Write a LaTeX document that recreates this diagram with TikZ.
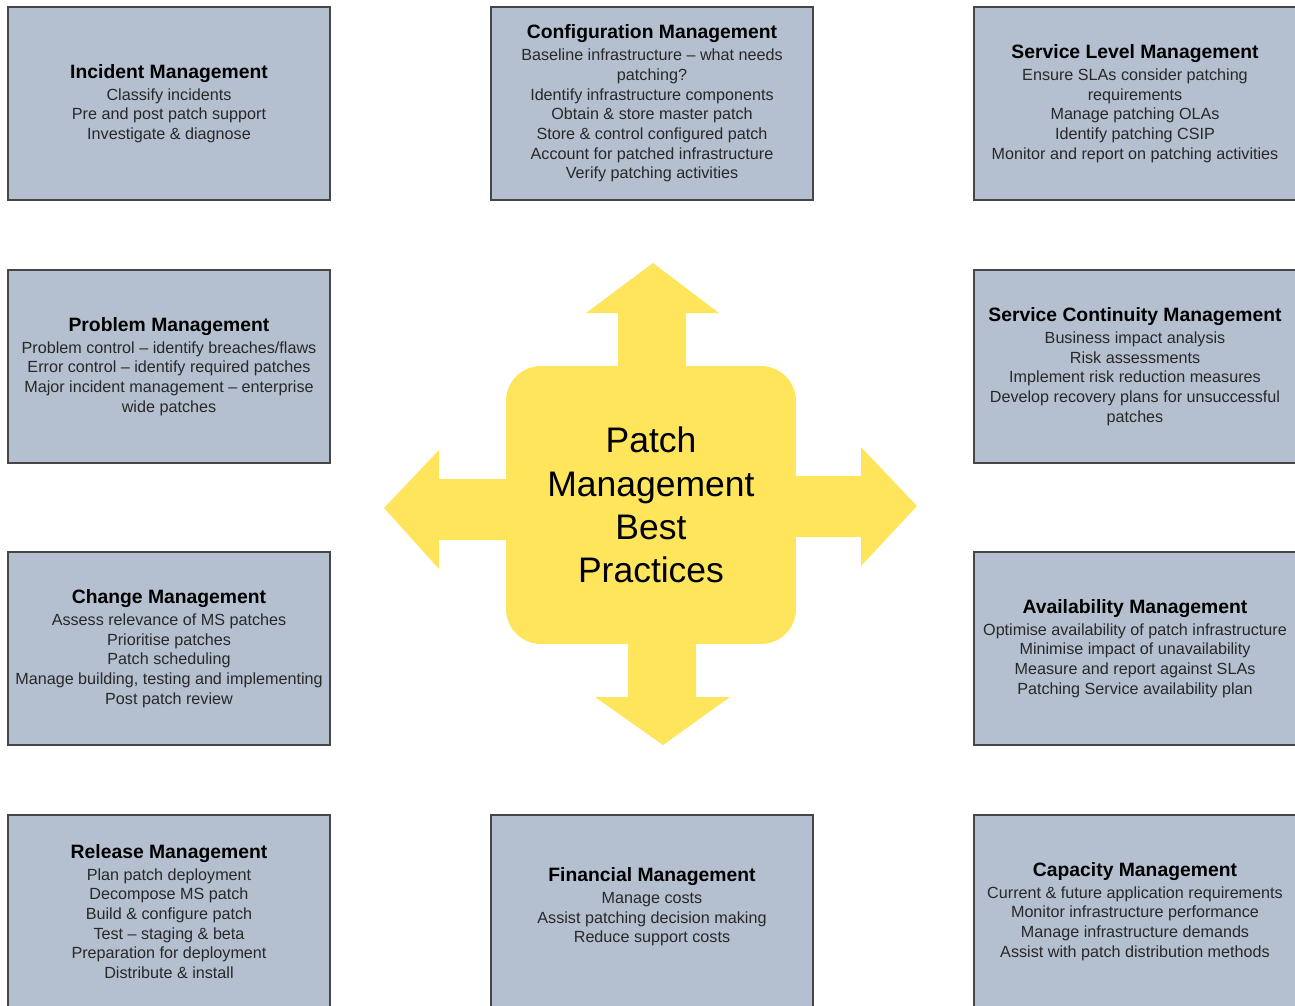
\documentclass[tikz,border=0pt]{standalone}
\usepackage{fontspec}
\setmainfont{Liberation Sans}
\definecolor{boxfill}{RGB}{180,192,208}
\definecolor{boxline}{RGB}{70,70,70}
\definecolor{patchyellow}{RGB}{254,229,92}
\definecolor{bodytext}{RGB}{40,40,40}
\newcommand{\mtitle}[1]{{\fontsize{11}{13}\selectfont\bfseries\color{black}#1}\\[1.3pt]}
\tikzset{
  mgmt/.style={draw=boxline, fill=boxfill, line width=0.85pt, minimum width=6.44cm,
    minimum height=3.86cm, inner sep=0pt, align=center, text=bodytext,
    font=\fontsize{9.2}{11.2}\selectfont},
  core/.style={fill=patchyellow, rounded corners=0.7cm, minimum width=5.8cm,
    minimum height=5.56cm, inner sep=0pt, align=center,
    font=\fontsize{20.2}{24.6}\selectfont}
}
\begin{document}
\begin{tikzpicture}[x=0.02cm, y=-0.02cm]
\useasboundingbox (0,0) rectangle (1295,1005);
% left column
\node[mgmt] (incident) at (169,103.5) {\mtitle{Incident Management}Classify incidents\\Pre and post patch support\\Investigate \& diagnose};
\node[mgmt] (problem) at (169,366.5) {\mtitle{Problem Management}Problem control -- identify breaches/flaws\\Error control -- identify required patches\\Major incident management -- enterprise\\wide patches};
\node[mgmt] (change) at (169,648.5) {\mtitle{Change Management}Assess relevance of MS patches\\Prioritise patches\\Patch scheduling\\Manage building, testing and implementing\\Post patch review};
\node[mgmt] (release) at (169,911.5) {\mtitle{Release Management}Plan patch deployment\\Decompose MS patch\\Build \& configure patch\\Test -- staging \& beta\\Preparation for deployment\\Distribute \& install};
% middle column
\node[mgmt] (config) at (652,103.5) {\mtitle{Configuration Management}Baseline infrastructure -- what needs\\patching?\\Identify infrastructure components\\Obtain \& store master patch\\Store \& control configured patch\\Account for patched infrastructure\\Verify patching activities};
\node[mgmt] (financial) at (652,911.5) {\mtitle{Financial Management}Manage costs\\Assist patching decision making\\Reduce support costs\\[-4pt]\mbox{}};
% right column
\node[mgmt] (service) at (1135,103.5) {\mtitle{Service Level Management}Ensure SLAs consider patching\\requirements\\Manage patching OLAs\\Identify patching CSIP\\Monitor and report on patching activities};
\node[mgmt] (continuity) at (1135,366.5) {\mtitle{Service Continuity Management}Business impact analysis\\Risk assessments\\Implement risk reduction measures\\Develop recovery plans for unsuccessful\\patches};
\node[mgmt] (availability) at (1135,648.5) {\mtitle{Availability Management}Optimise availability of patch infrastructure\\Minimise impact of unavailability\\Measure and report against SLAs\\Patching Service availability plan};
\node[mgmt] (capacity) at (1135,911.5) {\mtitle{Capacity Management}Current \& future application requirements\\Monitor infrastructure performance\\Manage infrastructure demands\\Assist with patch distribution methods};
% centre with four arrows
\fill[patchyellow] (618,370) -- (618,313) -- (586,313) -- (653,263) -- (719,313) -- (686,313) -- (686,370) -- cycle;
\fill[patchyellow] (628,640) -- (628,697) -- (595,697) -- (663,745) -- (730,697) -- (696,697) -- (696,640) -- cycle;
\fill[patchyellow] (510,479) -- (439,479) -- (439,450) -- (384,508) -- (439,569) -- (439,540) -- (510,540) -- cycle;
\fill[patchyellow] (792,476) -- (861,476) -- (861,447) -- (917,506) -- (861,566) -- (861,537) -- (792,537) -- cycle;
\node[core] (patch) at (651,505) {Patch\\Management\\Best\\Practices};
\end{tikzpicture}
\end{document}
